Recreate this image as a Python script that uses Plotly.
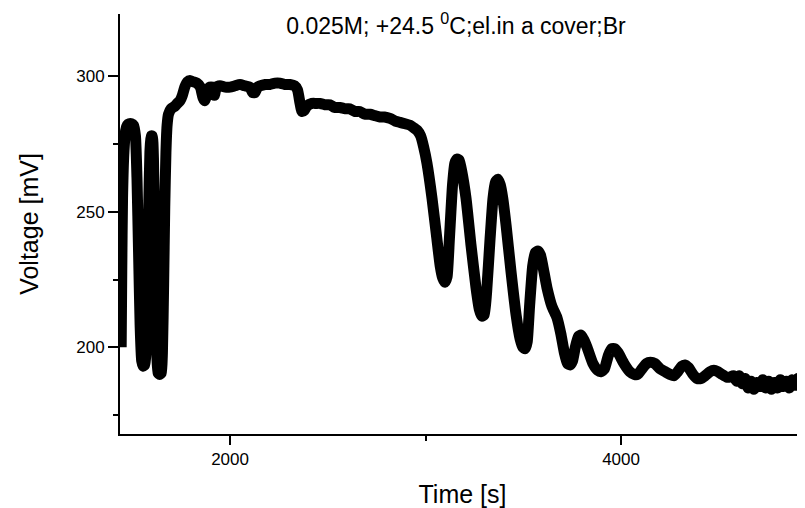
import plotly.graph_objects as go

# Time [s]
time_s = [1443, 1446, 1450, 1457, 1466, 1474, 1484, 1496, 1506, 1516,
          1524, 1532, 1540, 1548, 1556, 1563, 1570, 1577, 1584, 1590,
          1596, 1602, 1608, 1614, 1620, 1626, 1632, 1640, 1648, 1654,
          1660, 1666, 1672, 1678, 1685, 1698, 1718, 1730, 1744, 1756,
          1768, 1782, 1795, 1810, 1830, 1848, 1862, 1870, 1880, 1895,
          1910, 1920, 1930, 1949, 1975, 2000, 2025, 2051, 2075, 2102,
          2115, 2128, 2140, 2153, 2180, 2204, 2230, 2255, 2280, 2306,
          2330, 2345, 2358, 2368, 2380, 2393, 2419, 2440, 2460, 2485,
          2511, 2535, 2562, 2590, 2613, 2640, 2664, 2690, 2716, 2740,
          2767, 2790, 2818, 2845, 2869, 2895, 2920, 2940, 2958, 2975,
          2990, 3007, 3033, 3058, 3075, 3088, 3099, 3110, 3122, 3138,
          3150, 3161, 3172, 3185, 3207, 3232, 3258, 3275, 3288, 3300,
          3312, 3330, 3345, 3358, 3370, 3382, 3395, 3412, 3437, 3463,
          3484, 3498, 3510, 3520, 3532, 3548, 3562, 3575, 3588, 3600,
          3621, 3647, 3672, 3692, 3710, 3726, 3739, 3752, 3766, 3782,
          3795, 3808, 3826, 3856, 3880, 3897, 3915, 3935, 3952, 3968,
          3985, 4015, 4045, 4068, 4085, 4107, 4130, 4150, 4173, 4200,
          4225, 4250, 4271, 4290, 4310, 4327, 4345, 4368, 4388, 4410,
          4430, 4455, 4475, 4495, 4516, 4540, 4557, 4575, 4590, 4605,
          4620, 4635, 4650, 4665, 4680, 4695, 4710, 4725, 4740, 4755,
          4770, 4785, 4800, 4815, 4830, 4845, 4860, 4875, 4890, 4905,
          4920, 4935, 4946]

# Voltage [mV]
voltage_mv = [200, 228, 255, 272, 280, 282, 282.5, 282.5, 282, 278,
              262, 235, 208, 195, 193, 193.5, 198, 222, 252, 272,
              278, 278, 270, 245, 215, 196, 190.5, 190, 190.5, 198,
              222, 252, 272, 282, 286, 288, 289, 290, 291, 293,
              296, 298, 298.5, 298, 297.5, 296, 292, 291, 293, 296,
              296, 293, 296, 296.5, 296, 296, 296.5, 297, 296.5, 296,
              294, 294, 296, 296.5, 297, 297, 297.5, 297.5, 297, 297,
              296.5, 295, 290, 287, 287.5, 289, 290, 290, 290, 289.5,
              289.5, 288.5, 288.5, 288, 288, 287, 287, 286, 286, 285.5,
              285, 285, 284.5, 283.5, 283, 282.5, 282, 281, 280, 278,
              274, 268, 255, 240, 230, 225.5, 224, 226, 240, 260,
              268, 269.5, 269, 265, 255, 238, 222, 214, 211.5, 212,
              220, 240, 255, 261, 262, 260, 255, 245, 228, 212,
              203, 200, 199.5, 202, 215, 230, 235, 235.5, 234, 230,
              222, 215, 211, 205, 198, 194, 193.5, 195, 200, 204,
              204.5, 203, 200, 194, 191.5, 191, 192, 197, 199.5, 199.5,
              198, 194, 191, 190, 190, 192, 194, 194.5, 194, 192,
              191, 190, 189.5, 191, 193, 193.5, 192.5, 190, 188.5, 188.5,
              189.5, 191, 191.5, 191, 190, 189, 189, 189.5, 187.5, 189.5,
              186.5, 188.5, 185, 187.5, 184.5, 187, 185.5, 188, 185, 187.5,
              184.5, 187, 185, 188, 185.5, 187.5, 185, 188, 186, 188.5,
              186, 188.5, 187]

x_ticks = [2000, 4000]
x_minor = [3000]
y_ticks = [200, 250, 300]
y_minor = [175, 225, 275]

FONT = "Liberation Sans, Arial, sans-serif"

fig = go.Figure()
fig.add_trace(go.Scatter(
    x=time_s, y=voltage_mv, mode="lines",
    line=dict(color="black", width=11, shape="spline", smoothing=0.5),
    showlegend=False, hoverinfo="skip",
))

axis_common = dict(
    showline=True, linecolor="black", linewidth=2,
    ticks="outside", tickcolor="black", tickwidth=2,
    showgrid=False, zeroline=False, mirror=False, automargin=False,
    tickfont=dict(family=FONT, size=17, color="black"),
)

fig.update_xaxes(
    range=[1437, 4941], tickvals=x_ticks, ticklen=9,
    minor=dict(tickvals=x_minor, ticklen=5, tickwidth=2, tickcolor="black", ticks="outside"),
    title=dict(text="Time [s]", font=dict(family=FONT, size=25, color="black"), standoff=19),
    **axis_common,
)
fig.update_yaxes(
    range=[168, 323], tickvals=y_ticks, ticklen=10,
    minor=dict(tickvals=y_minor, ticklen=5, tickwidth=2, tickcolor="black", ticks="outside"),
    title=dict(text="Voltage [mV]", font=dict(family=FONT, size=25, color="black"), standoff=30),
    **axis_common,
)

# the page body adds an 8px offset, so the figure is sized to fill the remaining window
fig.update_layout(
    width=797, height=500,
    margin=dict(l=112, r=0, t=6, b=74),
    plot_bgcolor="white", paper_bgcolor="white",
    title=dict(
        text="0.025M; +24.5 <sup>0</sup>C;el.in a cover;Br",
        x=448 / 797, xanchor="center", xref="container",
        y=1 - 18 / 500, yanchor="middle", yref="container",
        font=dict(family=FONT, size=23, color="black"),
    ),
)

fig.write_html("out.html")
